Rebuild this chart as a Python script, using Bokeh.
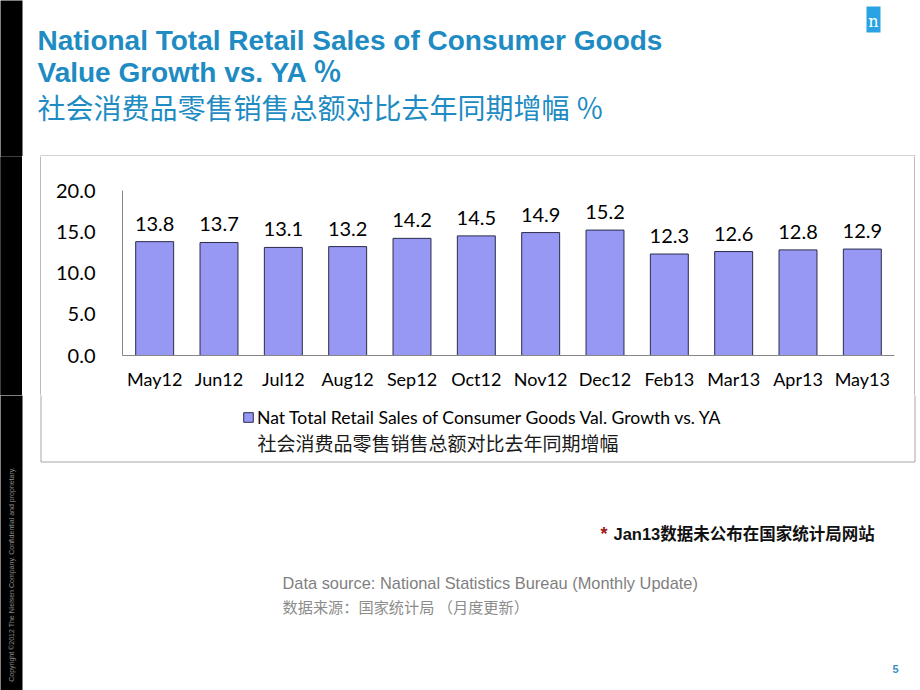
from math import pi
from bokeh.plotting import figure
from bokeh.layouts import column, row
from bokeh.models import (ColumnDataSource, FactorRange, Range1d, FixedTicker,
                          NumeralTickFormatter, LabelSet, Label,
                          Legend, LegendItem)
from bokeh.core.properties import value
from bokeh.embed import file_html
from bokeh.resources import INLINE

# ---------------- data ----------------
months = ["May12", "Jun12", "Jul12", "Aug12", "Sep12", "Oct12",
          "Nov12", "Dec12", "Feb13", "Mar13", "Apr13", "May13"]
growth = [13.8, 13.7, 13.1, 13.2, 14.2, 14.5, 14.9, 15.2, 12.3, 12.6, 12.8, 12.9]
y_ticks = [0, 5, 10, 15, 20]

title_en_1 = "National Total Retail Sales of Consumer Goods"
title_en_2 = "Value Growth vs. YA ％"
title_cn = "社会消费品零售销售总额对比去年同期增幅 ％"
legend_en = "Nat Total Retail Sales of Consumer Goods Val. Growth vs. YA"
legend_cn = "社会消费品零售销售总额对比去年同期增幅"
note_text = "Jan13数据未公布在国家统计局网站"
source_en = "Data source: National Statistics Bureau (Monthly Update)"
source_cn = "数据来源：国家统计局 （月度更新）"
copyright_text = "Copyright ©2012 The Nielsen Company. Confidential and proprietary."

# ---------------- styles ----------------
BAR_FILL = "#9797F4"
BAR_LINE = "#2B2B4A"
TITLE_BLUE = "#1E8BC3"
AXIS_GREY = "#868686"
BOX_GREY = "#A6A6A6"
LAT = "Lato"
CJK = "Noto Sans CJK SC"
ARIAL_CJK = "Liberation Sans, 'Noto Sans CJK SC'"
ARIAL = "Liberation Sans"

PAGE_W = 920
HEAD_H = 156          # slide top part (titles)
MID_H = 239           # chart row
FOOT_H = 690 - HEAD_H - MID_H
STRIP_W = 22
BOX_L, BOX_R = 40, 914  # chart box edge pixel columns (page x)
BOX_B = 461             # chart box bottom (page y)


def deco(w, h):
    f = figure(width=w, height=h, output_backend="svg", toolbar_location=None,
               x_range=Range1d(0, w), y_range=Range1d(h, 0),
               x_axis_type=None, y_axis_type=None, min_border=0)
    f.min_border_left = f.min_border_right = 0
    f.min_border_top = f.min_border_bottom = 0
    f.outline_line_color = None
    f.xgrid.grid_line_color = None
    f.ygrid.grid_line_color = None
    f.background_fill_color = "white"
    f.border_fill_color = "white"
    if "frame_align" in f.properties():
        f.frame_align = False
    return f


def solid(w, h, color):
    f = deco(w, h)
    f.background_fill_color = color
    f.border_fill_color = color
    f.quad(left=[-5], right=[w + 5], top=[-5], bottom=[h + 5], fill_color=color,
           line_color=None)
    return f


def lab(f, text, x, y, font, size, color, style="normal", align="left",
        baseline="middle", angle=0):
    f.add_layout(Label(x=x, y=y, text=text, text_font=font, text_font_size=size,
                       text_color=color, text_font_style=style,
                       text_align=align, text_baseline=baseline, angle=angle))


def strip(f, h):
    f.quad(left=[-5], right=[STRIP_W], top=[-5], bottom=[h + 5],
           fill_color="#000000", line_color=None)


# ---------------- header ----------------
head = deco(PAGE_W, HEAD_H)
strip(head, HEAD_H)
head.quad(left=[866], right=[880], top=[6], bottom=[32], fill_color="#29A3E3",
          line_color=None)
lab(head, "n", 873, 21, "DejaVu Serif", "16px", "#FFFFFF", align="center")
lab(head, title_en_1, 37, 40, ARIAL, "28px", TITLE_BLUE, style="bold")
lab(head, title_en_2, 37, 72, ARIAL_CJK, "28px", TITLE_BLUE, style="bold")
lab(head, title_cn, 37, 106, CJK, "28px", TITLE_BLUE)
head.segment(x0=[BOX_L], y0=[HEAD_H - 0.5], x1=[BOX_R + 1], y1=[HEAD_H - 0.5],
             line_color=BOX_GREY, line_width=1)

# ---------------- chart row ----------------
src = ColumnDataSource(dict(month=months, growth=growth,
                            label=[f"{v:.1f}" for v in growth]))

CW = BOX_R - BOX_L - 1
p = figure(width=CW, height=MID_H, output_backend="svg", toolbar_location=None,
           x_range=FactorRange(factors=months), y_range=Range1d(0, 20),
           min_border_left=81, min_border_right=20,
           min_border_top=34, min_border_bottom=40)
p.outline_line_color = None
p.background_fill_color = "white"
p.border_fill_color = "white"
p.xgrid.grid_line_color = None
p.ygrid.grid_line_color = None
if "frame_align" in p.properties():
    p.frame_align = False

bars = p.vbar(x="month", top="growth", width=0.59, source=src,
              fill_color=BAR_FILL, line_color=BAR_LINE, line_width=1)

p.yaxis.ticker = FixedTicker(ticks=y_ticks)
p.yaxis.formatter = NumeralTickFormatter(format="0.0")
for ax in (p.xaxis[0], p.yaxis[0]):
    ax.axis_line_color = AXIS_GREY
    ax.axis_line_width = 1
    ax.major_tick_line_color = None
    ax.minor_tick_line_color = None
    ax.major_tick_out = 0
    ax.major_tick_in = 0
    ax.minor_tick_out = 0
    ax.major_label_text_color = "#000000"
    ax.major_label_text_font = LAT
p.yaxis.major_label_text_font_size = "20px"
p.yaxis.major_label_standoff = 27
p.xaxis.major_label_text_font_size = "18px"
p.xaxis.major_label_standoff = 12

p.add_layout(LabelSet(x="month", y="growth", text="label", source=src,
                      y_offset=18, text_align="center", text_baseline="middle",
                      text_font=value(LAT), text_font_size="20px",
                      text_color="#000000"))

mid = row(solid(STRIP_W, MID_H, "#000000"),
          solid(BOX_L - STRIP_W, MID_H, "#FFFFFF"),
          solid(1, MID_H, BOX_GREY),
          p,
          solid(1, MID_H, BOX_GREY),
          solid(PAGE_W - BOX_R - 1, MID_H, "#FFFFFF"),
          spacing=0)

# ---------------- footer ----------------
foot = deco(PAGE_W, FOOT_H)
strip(foot, FOOT_H)
yb = BOX_B - HEAD_H - MID_H
foot.segment(x0=[BOX_L + 0.5, BOX_R + 0.5, BOX_L + 0.5],
             y0=[-1, -1, yb + 0.5],
             x1=[BOX_L + 0.5, BOX_R + 0.5, BOX_R + 0.5],
             y1=[yb + 0.5, yb + 0.5, yb + 0.5],
             line_color=BOX_GREY, line_width=1)

# legend: swatch renderer styled like the bars, its only point lies off-canvas
swatch = foot.vbar(x=[-1000], top=[-1000], bottom=[-1001], width=1,
                   fill_color=BAR_FILL, line_color=BAR_LINE, line_width=1)
leg_cy = 417 - HEAD_H - MID_H
leg = Legend(items=[LegendItem(label=legend_en, renderers=[swatch])],
             location=(242, FOOT_H - leg_cy - 11), padding=0, margin=0,
             spacing=0, glyph_width=12, glyph_height=12, label_height=22,
             label_standoff=3, label_text_font=LAT,
             label_text_font_size="17.6px", label_text_color="#000000",
             label_text_baseline="middle",
             border_line_color=None, background_fill_alpha=0)
foot.add_layout(leg, "center")
lab(foot, legend_cn, 257, 442 - HEAD_H - MID_H, CJK, "19px", "#1A1A1A")

off = HEAD_H + MID_H
lab(foot, copyright_text, 11, 574 - off, ARIAL, "7px", "#8C8C8C",
    align="center", angle=pi / 2)
lab(foot, "*", 600, 533 - off, ARIAL, "18px", "#A01818", style="bold")
lab(foot, note_text, 613, 533 - off, ARIAL_CJK, "16.5px", "#111111", style="bold")
lab(foot, source_en, 282, 582 - off, ARIAL, "16.4px", "#7F7F7F")
lab(foot, source_cn, 282, 605 - off, CJK, "15.2px", "#8C8C8C")
lab(foot, "5", 895, 668 - off, ARIAL, "11px", "#3A8FC0", style="bold",
    align="center")

layout = column(head, mid, foot, spacing=0)
open("out.html", "w").write(file_html(layout, INLINE))
